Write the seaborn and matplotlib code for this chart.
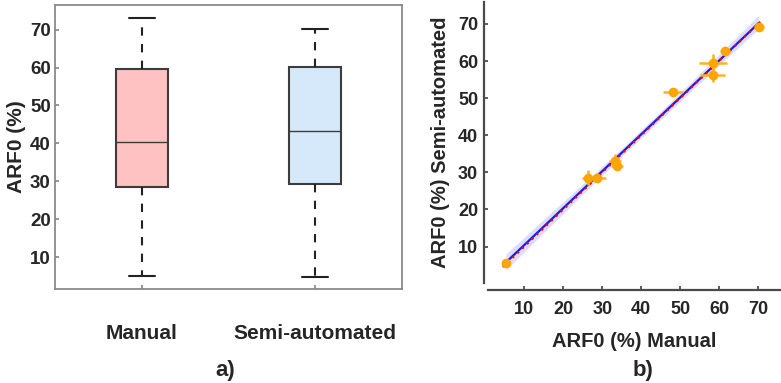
import numpy as np
import pandas as pd
import seaborn as sns
import matplotlib.pyplot as plt

sns.set_theme(style="white")
plt.rcParams.update({"font.family": ["Liberation Sans", "DejaVu Sans"],
                     "font.weight": "bold",
                     "axes.labelweight": "bold"})

# a) five-number summaries read off the boxes (min, Q1, median, Q3, max)
groups = ["Manual", "Semi-automated"]
manual_vals = [4.9, 28.5, 40.5, 59.6, 73.0]
semi_vals = [4.8, 29.3, 43.2, 60.05, 70.1]
box_colors = ["#FFC2C2", "#D5E9FB"]

# b) per-case ARF0 values with their spreads
manual_x = [5.3, 26.4, 28.7, 33.3, 33.8, 48.2, 58.5, 58.3, 61.6, 70.2]
semi_y = [5.5, 28.6, 28.4, 33.1, 31.7, 51.6, 59.4, 56.3, 62.8, 69.2]
x_err = [0.3, 1.6, 2.3, 1.5, 1.6, 2.5, 3.6, 3.3, 1.3, 1.2]
y_err = [0.3, 2.0, 0.5, 1.8, 0.5, 0.9, 2.4, 2.0, 0.5, 0.5]
identity = [4.5, 71.0]

df = pd.DataFrame({"group": [groups[0]] * 5 + [groups[1]] * 5,
                   "ARF0": manual_vals + semi_vals})

fig = plt.figure(figsize=(7.81, 3.83), dpi=100)

# ---- a) boxplot
ax1 = fig.add_axes([0.0704, 0.2454, 0.4443, 0.7415])
sns.boxplot(data=df, x="group", y="ARF0", hue="group", palette=box_colors,
            saturation=1, width=0.3, linecolor="#3c3c3c", linewidth=1.5,
            legend=False, ax=ax1,
            whiskerprops={"linestyle": (0, (4, 4)), "color": "#222222"},
            capprops={"color": "#222222"},
            medianprops={"linewidth": 1.0, "color": "#3c3c3c"})
ax1.set_xlim(-0.5, 1.5)
ax1.set_ylim(1.6, 76.5)
ax1.set_yticks([10, 20, 30, 40, 50, 60, 70])
ax1.set_xlabel("")
ax1.set_ylabel("ARF0 (%)", fontsize=15, labelpad=3)
for s in ax1.spines.values():
    s.set_color("#8a8a8a")
    s.set_linewidth(1.3)
ax1.tick_params(axis="y", direction="in", length=3, color="#8a8a8a",
                labelsize=13.5, pad=3, left=True)
ax1.tick_params(axis="x", direction="in", length=3, color="#8a8a8a",
                labelsize=15, pad=25, bottom=True)

# ---- b) agreement plot
ax2 = fig.add_axes([0.6248, 0.2611, 0.3739, 0.7337])
sns.regplot(x=manual_x, y=semi_y, ax=ax2, scatter=False, color="#1a1aee",
            ci=95, seed=3, truncate=True, line_kws={"linewidth": 1.6})
ax2.plot(identity, identity, linestyle=(0, (1, 2)), color="red", linewidth=1.6)
ax2.errorbar(manual_x, semi_y, xerr=x_err, yerr=y_err, fmt="o",
             color="#FFA500", ecolor="#FFB226", markersize=6,
             elinewidth=1.8, capsize=0, zorder=4)
ax2.set_xlim(0.7, 75.6)
ax2.set_ylim(0.2, 75.9)
ax2.set_xticks([10, 20, 30, 40, 50, 60, 70])
ax2.set_yticks([10, 20, 30, 40, 50, 60, 70])
ax2.set_xlabel("ARF0 (%) Manual", fontsize=14.5, labelpad=10)
ax2.set_ylabel("ARF0 (%) Semi-automated", fontsize=14.5, labelpad=6)
sns.despine(ax=ax2)
ax2.spines["bottom"].set_position(("outward", 5))
ax2.spines["left"].set_position(("outward", 3))
for s in ("bottom", "left"):
    ax2.spines[s].set_color("#4a4a4a")
    ax2.spines[s].set_linewidth(1.6)
ax2.tick_params(direction="in", length=3, color="#4a4a4a", labelsize=13,
                left=True, bottom=True)
ax2.tick_params(axis="x", pad=8)
ax2.tick_params(axis="y", pad=4)

fig.text(0.288, 0.018, "a)", fontsize=16, fontweight="bold", ha="center")
fig.text(0.823, 0.018, "b)", fontsize=16, fontweight="bold", ha="center")

fig.savefig("out.png", dpi=100)
